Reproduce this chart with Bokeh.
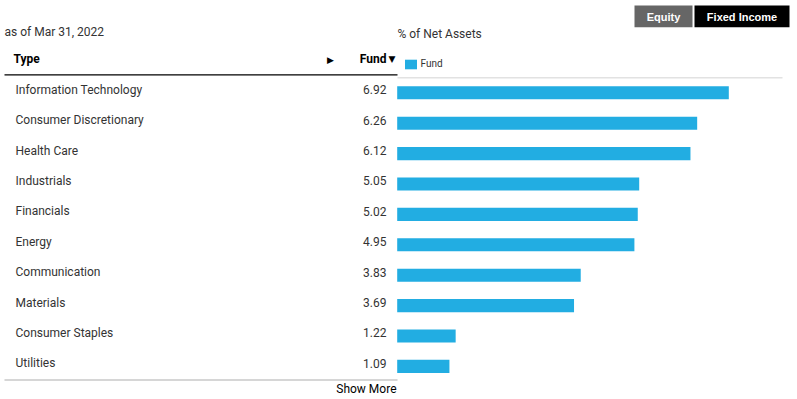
from bokeh.plotting import figure
from bokeh.models import Range1d
from bokeh.core.properties import value
from bokeh.embed import file_html
from bokeh.resources import INLINE

# ---------------- data ----------------
categories = ["Information Technology", "Consumer Discretionary", "Health Care",
              "Industrials", "Financials", "Energy", "Communication",
              "Materials", "Consumer Staples", "Utilities"]
fund = [6.92, 6.26, 6.12, 5.05, 5.02, 4.95, 3.83, 3.69, 1.22, 1.09]
value_labels = [f"{v:.2f}" for v in fund]
series_name = "Fund"
as_of_label = "as of Mar 31, 2022"
axis_title = "% of Net Assets"
tab_labels = ["Equity", "Fixed Income"]
col_headers = ["Type", "Fund"]
footer_label = "Show More"

# ---------------- layout (pixel helpers) ----------------
W, H = 797, 399
OX, OY = 0, 0


def X(px):
    return px - OX


def Y(py):
    return py - OY


BAR_ZERO = X(396.7)
PX_PER_PCT = 47.92
ROW0 = Y(92.3)
ROW_STEP = 30.4
BLUE = "#22ADE2"
TXT = "#333333"
FONT = "Roboto"

p = figure(width=W, height=H, output_backend="svg", toolbar_location=None,
           x_range=Range1d(0, W), y_range=Range1d(H, 0),
           min_border=0, outline_line_color=None,
           x_axis_location=None, y_axis_location=None,
           background_fill_color="white", border_fill_color="white")
p.xgrid.visible = False
p.ygrid.visible = False
p.extra_x_ranges = {"pct": Range1d(-BAR_ZERO / PX_PER_PCT, (W - BAR_ZERO) / PX_PER_PCT)}
p.extra_y_ranges = {"row": Range1d((H - ROW0) / ROW_STEP, -ROW0 / ROW_STEP)}

rows = list(range(len(categories)))
text_rows = [r - 0.1 for r in rows]

# bars
p.hbar(y=rows, left=0, right=fund, height=0.43, x_range_name="pct",
       y_range_name="row", fill_color=BLUE, line_color=None,
       legend_label=series_name)

# table text
p.text(x=X(15), y=text_rows, text=categories, y_range_name="row",
       text_font=value(FONT), text_font_size=value("12px"), text_color=TXT,
       text_baseline="middle", text_align="left")
p.text(x=X(386), y=text_rows, text=value_labels, y_range_name="row",
       text_font=value(FONT), text_font_size=value("12px"), text_color=TXT,
       text_baseline="middle", text_align="right")

# headers
p.text(x=[X(13)], y=[Y(58)], text=[col_headers[0]], text_font=value(FONT),
       text_font_size=value("12px"), text_font_style="bold", text_color="black",
       text_baseline="middle", text_align="left")
p.text(x=[X(386)], y=[Y(58)], text=[col_headers[1]], text_font=value(FONT),
       text_font_size=value("12px"), text_font_style="bold", text_color="black",
       text_baseline="middle", text_align="right")
p.text(x=[X(391.5)], y=[Y(58)], text=["\u25BC"], text_font=value("DejaVu Sans"),
       text_font_size=value("9px"), text_color="black",
       text_baseline="middle", text_align="center")
p.text(x=[X(330)], y=[Y(59)], text=["\u25B6"], text_font=value("DejaVu Sans"),
       text_font_size=value("9px"), text_color="black",
       text_baseline="middle", text_align="center")

p.text(x=[X(4)], y=[Y(31)], text=[as_of_label], text_font=value(FONT),
       text_font_size=value("12px"), text_color=TXT,
       text_baseline="middle", text_align="left")
p.text(x=[X(397)], y=[Y(33)], text=[axis_title], text_font=value(FONT),
       text_font_size=value("12px"), text_color=TXT,
       text_baseline="middle", text_align="left")

# rules
p.segment(x0=[X(4)], x1=[X(397)], y0=[Y(74.3)], y1=[Y(74.3)], line_color="black", line_width=1.2)
p.segment(x0=[X(397)], x1=[X(782)], y0=[Y(77.3)], y1=[Y(77.3)], line_color="#E2E2E2", line_width=1.5)
p.segment(x0=[X(4)], x1=[X(397)], y0=[Y(379.5)], y1=[Y(379.5)], line_color="#C8C8C8", line_width=1.5)

p.text(x=[X(396)], y=[Y(388)], text=[footer_label], text_font=value(FONT),
       text_font_size=value("12px"), text_color="black",
       text_baseline="middle", text_align="right")

# tab buttons
p.quad(left=[X(634), X(694)], right=[X(692), X(789)], top=[Y(5)] * 2, bottom=[Y(26.7)] * 2,
       fill_color=["#666666", "#000000"], line_color=None)
p.text(x=[X(663), X(741.5)], y=[Y(16)] * 2, text=tab_labels,
       text_font=value("Liberation Sans"), text_font_size=value("11px"),
       text_font_style="bold", text_color="white",
       text_baseline="middle", text_align="center")

# legend
leg = p.legend[0]
leg.location = (X(402.5), H - Y(69.5))
leg.orientation = "horizontal"
leg.padding = 0
leg.margin = 0
leg.spacing = 0
leg.border_line_color = None
leg.background_fill_alpha = 0
leg.glyph_width = 15
leg.glyph_height = 12
leg.label_standoff = 3
leg.label_height = 12
leg.label_text_font = FONT
leg.label_text_font_size = "10px"
leg.label_text_color = TXT
leg.label_text_baseline = "middle"

open("out.html", "w").write(file_html(p, INLINE))
